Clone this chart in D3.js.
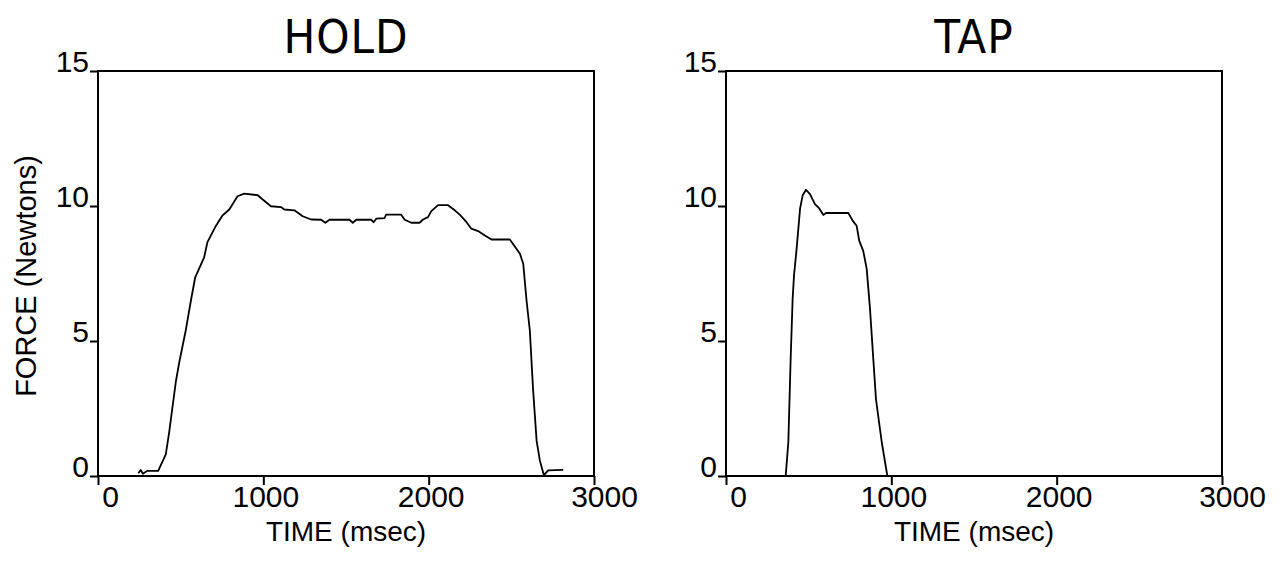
<!DOCTYPE html>
<html>
<head>
<meta charset="utf-8">
<script src="https://cdn.jsdelivr.net/npm/d3@7"></script>
<style>
  body { margin: 0; background: #fff; }
  svg { display: block; }
  .ticklabel, .axistitle { font-family: "Liberation Sans", Arial, Helvetica, sans-serif; fill: #000; }
  .paneltitle { font-family: "Liberation Sans Narrow", "DejaVu Sans Condensed", sans-serif; fill: #000; }
</style>
</head>
<body>
<div id="wrapper"></div>
<script>
// HOLD trace (time in msec, force in Newtons)
const holdTime = [244, 258, 272, 297, 364, 410, 430, 471, 491, 531, 562, 588, 642, 662, 709, 753, 794, 844, 885, 966, 996, 1046, 1107, 1127, 1188, 1238, 1289, 1350, 1375, 1400, 1521, 1541, 1562, 1653, 1667, 1683, 1733, 1743, 1834, 1855, 1895, 1945, 1966, 1996, 2016, 2057, 2117, 2158, 2188, 2228, 2258, 2299, 2340, 2380, 2491, 2521, 2552, 2572, 2592, 2612, 2632, 2653, 2673, 2697, 2723, 2814]
const holdForce = [0.1, 0.22, 0.08, 0.19, 0.19, 0.8, 1.6, 3.5, 4.2, 5.4, 6.5, 7.36, 8.1, 8.66, 9.22, 9.65, 9.87, 10.36, 10.46, 10.4, 10.24, 9.99, 9.96, 9.87, 9.84, 9.62, 9.5, 9.49, 9.38, 9.49, 9.49, 9.38, 9.49, 9.49, 9.4, 9.53, 9.55, 9.68, 9.68, 9.49, 9.38, 9.38, 9.5, 9.59, 9.81, 10.03, 10.03, 9.84, 9.68, 9.41, 9.16, 9.07, 8.91, 8.76, 8.76, 8.5, 8.23, 7.86, 6.5, 5.38, 3.16, 1.3, 0.56, 0.03, 0.21, 0.23]

// TAP trace
const tapTime = [361, 377, 391, 403, 411, 427, 448, 464, 484, 508, 538, 564, 589, 605, 740, 766, 790, 806, 830, 851, 871, 891, 907, 942, 976]
const tapForce = [0, 1.25, 4.33, 6.55, 7.4, 8.4, 9.9, 10.4, 10.6, 10.44, 10.07, 9.91, 9.67, 9.74, 9.74, 9.46, 9.27, 8.71, 8.34, 7.67, 6.19, 4.33, 2.85, 1.25, 0]

const xTicks = [0, 1000, 2000, 3000]
const yTicks = [0, 5, 10, 15]
const panelTitles = ["HOLD", "TAP"]

const dimensions = { width: 1283, height: 563 }

const svg = d3.select("#wrapper")
    .append("svg")
    .attr("width", dimensions.width)
    .attr("height", dimensions.height)

svg.append("rect")
    .attr("width", dimensions.width)
    .attr("height", dimensions.height)
    .attr("fill", "#fff")

const panels = [
    { left: 98, title: panelTitles[0], time: holdTime, force: holdForce },
    { left: 726, title: panelTitles[1], time: tapTime, force: tapForce }
]

const plotW = 496
const plotTop = 71
const plotBottom = 476

const drawPanel = (p) => {
    const xScale = d3.scaleLinear()
        .domain([0, 3000])
        .range([p.left, p.left + plotW])

    const yScale = d3.scaleLinear()
        .domain([0, 15])
        .range([plotBottom, plotTop])

    const g = svg.append("g")

    // frame
    g.append("rect")
        .attr("x", xScale(0))
        .attr("y", yScale(15))
        .attr("width", xScale(3000) - xScale(0))
        .attr("height", yScale(0) - yScale(15))
        .attr("fill", "none")
        .attr("stroke", "#000")
        .attr("stroke-width", 2)

    // x axis ticks + labels
    const xAxis = d3.axisBottom(xScale)
        .tickValues(xTicks)
        .tickSize(9)
        .tickPadding(1)
        .tickFormat(d3.format("d"))

    const xAxisEl = g.append("g")
        .attr("transform", `translate(0, ${plotBottom})`)
        .call(xAxis)
    xAxisEl.select(".domain").remove()
    xAxisEl.selectAll("line").attr("stroke", "#000").attr("stroke-width", 2)
    xAxisEl.selectAll("text")
        .attr("class", "ticklabel")
        .style("font-size", "30px")
        .attr("dx", (d, i) => i === 0 ? 12 : i === xTicks.length - 1 ? 10 : 2)
        .attr("dy", "0.71em")

    // y axis ticks + labels
    const yAxis = d3.axisLeft(yScale)
        .tickValues(yTicks)
        .tickSize(8)
        .tickPadding(1)
        .tickFormat(d3.format("d"))

    const yAxisEl = g.append("g")
        .attr("transform", `translate(${p.left}, 0)`)
        .call(yAxis)
    yAxisEl.select(".domain").remove()
    yAxisEl.selectAll("line").attr("stroke", "#000").attr("stroke-width", 2)
    yAxisEl.selectAll("text")
        .attr("class", "ticklabel")
        .style("font-size", "30px")
        .attr("dy", "0")

    // trace
    const pts = p.time.map((t, i) => [t, p.force[i]])
    const line = d3.line()
        .x(d => xScale(d[0]))
        .y(d => yScale(d[1]))

    g.append("path")
        .datum(pts)
        .attr("d", line)
        .attr("fill", "none")
        .attr("stroke", "#000")
        .attr("stroke-width", 1.8)
        .attr("stroke-linejoin", "round")

    // titles
    g.append("text")
        .attr("class", "paneltitle")
        .attr("x", xScale(1500))
        .attr("y", 53)
        .attr("text-anchor", "middle")
        .style("font-size", "47px")
        .style("letter-spacing", "1px")
        .text(p.title)

    g.append("text")
        .attr("class", "axistitle")
        .attr("x", xScale(1500))
        .attr("y", 541)
        .attr("text-anchor", "middle")
        .style("font-size", "28px")
        .text("TIME (msec)")
}

panels.forEach(drawPanel)

svg.append("text")
    .attr("class", "axistitle")
    .attr("transform", "translate(36, 276) rotate(-90)")
    .attr("text-anchor", "middle")
    .style("font-size", "29px")
    .text("FORCE (Newtons)")
</script>
</body>
</html>
